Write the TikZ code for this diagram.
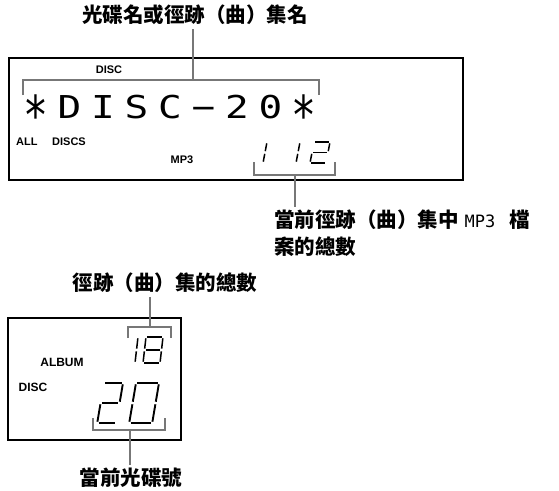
\documentclass[tikz,border=0pt]{standalone}
\usepackage{fontspec}
\setmainfont{Liberation Sans}
\newfontfamily\cjk{Noto Sans CJK TC}
\newfontfamily\lcdfont{DejaVu Sans Mono}
\newfontfamily\monolat{DejaVu Sans Mono}
\definecolor{brkgray}{HTML}{777777}
\def\sg{1.3}
\def\sega{\draw[segline] (\sg,0)--(\dw-\sg,0);}
\def\segb{\draw[segline] (\dw,\sg)--(\dw,\dm-\sg);}
\def\segc{\draw[segline] (\dw,\dm+\sg)--(\dw,\dh-\sg);}
\def\segd{\draw[segline] (\sg,\dh)--(\dw-\sg,\dh);}
\def\sege{\draw[segline] (0,\dm+\sg)--(0,\dh-\sg);}
\def\segf{\draw[segline] (0,\sg)--(0,\dm-\sg);}
\def\segg{\draw[segline] (\sg,\dm)--(\dw-\sg,\dm);}
% x, y, w, h, slant, segments, line width
\newcommand\sevenseg[7]{%
  \begin{scope}[shift={(#1,#2)},x={(1pt,0pt)},y={(#5pt,-1pt)},segline/.style={draw=black,line width=#7pt,line cap=butt}]
    \pgfmathsetmacro\dw{#3}\pgfmathsetmacro\dh{#4}\pgfmathsetmacro\dm{#4/2}
    \foreach \s in {#6}{\csname seg\s\endcsname}
  \end{scope}}
\newcommand\lcdstar{\raisebox{-16.5pt}[23pt][0pt]{\scalebox{1.05}[1.7]{*}}}
\begin{document}
\begin{tikzpicture}[x=1pt,y=-1pt,
  lcdbox/.style={draw=black,line width=1.6pt},
  brk/.style={draw=brkgray,line width=1.8pt},
  conn/.style={draw=brkgray,line width=1.8pt},
  cjklabel/.style={font=\cjk\bfseries\fontsize{20.5}{24}\selectfont,inner sep=0pt},
  smalllab/.style={font=\bfseries\fontsize{11}{12}\selectfont,inner sep=0pt},
  biglab/.style={font=\bfseries\fontsize{12}{14}\selectfont,inner sep=0pt},
  lcdchar/.style={font=\lcdfont\fontsize{31.5}{34}\selectfont,inner sep=0pt,anchor=base,text depth=0pt}]
\useasboundingbox (0,0) rectangle (559,490);

% ---------- top display ----------
\node[cjklabel] (title) at (195,15) {光碟名或徑跡（曲）集名};
\draw[lcdbox] (9,58) rectangle (463,180);
\coordinate (b1) at (193,80);
\draw[brk] (23,95) -- (23,80) -- (319,80) -- (319,95);
\draw[conn] ([yshift=-4pt]title.south -| b1) -- (b1);

\node[smalllab] (disc1) at (109,70) {DISC};
\node[smalllab,anchor=west] (alllab) at (16,142) {ALL};
\node[smalllab,anchor=west] (discslab) at (52,142) {DISCS};
\node[smalllab] (mp3a) at (182,160) {MP3};

\foreach \ch [count=\i from 0] in {\lcdstar,D,I,S,C,−,2,0,\lcdstar}{
  \pgfmathsetmacro\xx{36+33.5*\i}
  \node[lcdchar] (lcd\i) at (\xx,118) {\scalebox{1.25}[1]{\ch}};
}

% digits 112
\sevenseg{267}{142}{0}{21}{-0.19}{b,c}{1.5}
\sevenseg{300}{142}{0}{21}{-0.19}{b,c}{1.5}
\sevenseg{314}{142}{16}{21}{-0.19}{a,b,g,e,d}{1.5}

\coordinate (b2) at (295,175);
\draw[brk] (254,162) -- (254,175) -- (335,175) -- (335,162);
\node[cjklabel,anchor=west] (lab2a) at (274,220) {當前徑跡（曲）集中\hspace{6pt}{\monolat\mdseries\fontsize{17}{20}\selectfont MP3}\hspace{14pt}檔};
\node[cjklabel,anchor=west] (lab2b) at (274,247) {案的總數};
\draw[conn] (b2) -- ([yshift=3pt]b2 |- lab2a.north);

% ---------- bottom display ----------
\node[cjklabel] (title3) at (165,283) {徑跡（曲）集的總數};
\draw[lcdbox] (8,318) rectangle (181,440);
\coordinate (b3) at (150,327);
\draw[brk] (128,338) -- (128,327) -- (171,327) -- (171,338);
\draw[conn] ([yshift=-4pt]title3.south -| b3) -- (b3);

\node[biglab] (album) at (62,362) {ALBUM};
\node[biglab] (disc2) at (33,387) {DISC};

\sevenseg{138}{337}{0}{26}{-0.115}{b,c}{1.5}
\sevenseg{146}{337}{17}{26}{-0.115}{a,b,c,d,e,f,g}{1.5}

\sevenseg{104}{383}{19}{40}{-0.17}{a,b,g,e,d}{1.9}
\sevenseg{136}{383}{23}{40}{-0.17}{a,b,c,d,e,f}{1.9}

\coordinate (b4) at (130,430);
\draw[brk] (93,418) -- (93,430) -- (165,430) -- (165,418);
\node[cjklabel] (lab4) at (131,478) {當前光碟號};
\draw[conn] (b4) -- ([yshift=3pt]b4 |- lab4.north);
\end{tikzpicture}
\end{document}
